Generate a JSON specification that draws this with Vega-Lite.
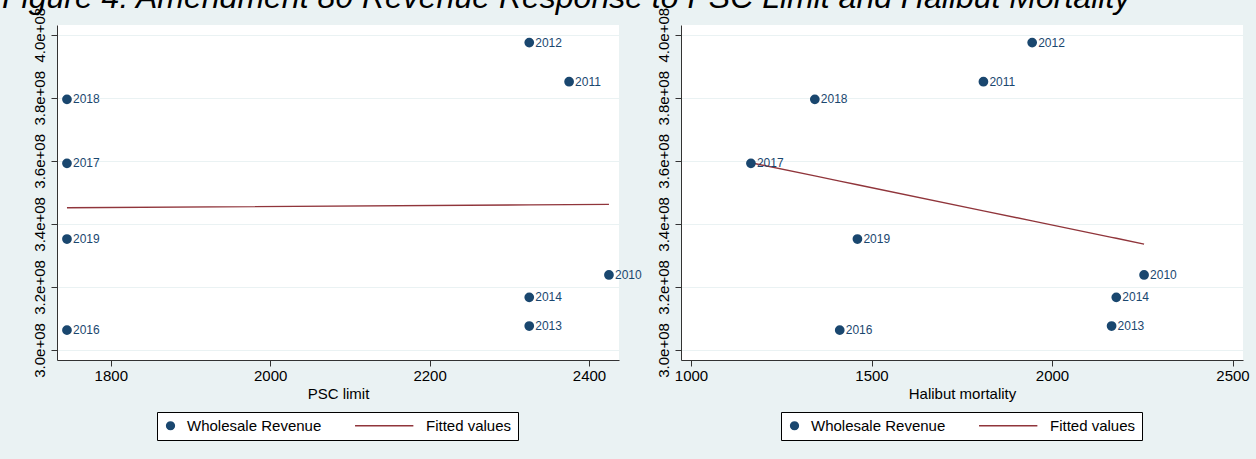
{
  "$schema": "https://vega.github.io/schema/vega-lite/v6.json",
  "autosize": {"type": "none"},
  "padding": {"left": 57, "top": 25, "right": 1199, "bottom": 434},
  "background": "#EAF2F3",
  "title": {
    "text": "Figure 4: Amendment 80 Revenue Response to PSC Limit and Halibut Mortality",
    "anchor": "start",
    "frame": "group",
    "dx": -55,
    "offset": -33,
    "baseline": "alphabetic",
    "font": "Liberation Sans",
    "fontSize": 32,
    "fontStyle": "italic",
    "fontWeight": "normal",
    "color": "#000000"
  },
  "datasets": {
    "main": [
      {"year": "2010", "psc": 2425, "hal": 2255, "rev": 323800000, "fit_psc": 346200000, "fit_hal": 333600000, "series": "Wholesale Revenue"},
      {"year": "2011", "psc": 2375, "hal": 1810, "rev": 385100000, "fit_psc": 346120000, "fit_hal": 344140000, "series": "Wholesale Revenue"},
      {"year": "2012", "psc": 2325, "hal": 1945, "rev": 397500000, "fit_psc": 346040000, "fit_hal": 340950000, "series": "Wholesale Revenue"},
      {"year": "2013", "psc": 2325, "hal": 2165, "rev": 307600000, "fit_psc": 346040000, "fit_hal": 335730000, "series": "Wholesale Revenue"},
      {"year": "2014", "psc": 2325, "hal": 2178, "rev": 316700000, "fit_psc": 346040000, "fit_hal": 335430000, "series": "Wholesale Revenue"},
      {"year": "2016", "psc": 1745, "hal": 1412, "rev": 306300000, "fit_psc": 345100000, "fit_hal": 353570000, "series": "Wholesale Revenue"},
      {"year": "2017", "psc": 1745, "hal": 1166, "rev": 359200000, "fit_psc": 345100000, "fit_hal": 359400000, "series": "Wholesale Revenue"},
      {"year": "2018", "psc": 1745, "hal": 1343, "rev": 379500000, "fit_psc": 345100000, "fit_hal": 355210000, "series": "Wholesale Revenue"},
      {"year": "2019", "psc": 1745, "hal": 1461, "rev": 335200000, "fit_psc": 345100000, "fit_hal": 352410000, "series": "Wholesale Revenue"}
    ]
  },
  "data": {"name": "main"},
  "spacing": 62,
  "bounds": "flush",
  "hconcat": [
    {
      "width": 562,
      "height": 335,
      "layer": [
        {
          "mark": {"type": "line", "color": "#90353B", "strokeWidth": 1.4},
          "encoding": {
            "x": {"field": "psc", "type": "quantitative", "title": "PSC limit", "scale": {"domain": [1732.5, 2437.6], "nice": false, "zero": false}, "axis": {"values": [1800, 2000, 2200, 2400], "format": "d"}},
            "y": {"field": "fit_psc", "type": "quantitative", "title": null, "scale": {"domain": [296830000, 403080000], "nice": false, "zero": false}, "axis": {"values": [300000000, 320000000, 340000000, 360000000, 380000000, 400000000], "labelExpr": "replace(format(datum.value, '.1e'), 'e+', 'e+0')"}}
          }
        },
        {
          "mark": {"type": "point", "filled": true, "opacity": 1, "size": 60},
          "encoding": {
            "x": {"field": "psc", "type": "quantitative", "title": "PSC limit"},
            "y": {"field": "rev", "type": "quantitative", "title": null},
            "fill": {"field": "series", "type": "nominal", "scale": {"domain": ["Wholesale Revenue", "Fitted values"], "range": ["#1A476F", "#90353B"]}, "legend": {"orient": "none", "legendX": 100, "legendY": 387, "direction": "horizontal", "title": null}},
            "stroke": {"field": "series", "type": "nominal", "scale": {"domain": ["Wholesale Revenue", "Fitted values"], "range": ["#1A476F", "#90353B"]}, "legend": {"orient": "none", "legendX": 100, "legendY": 387, "direction": "horizontal", "title": null}},
            "shape": {"field": "series", "type": "nominal", "scale": {"domain": ["Wholesale Revenue", "Fitted values"], "range": ["circle", "M -14.06 0 L 1 0"]}, "legend": {"orient": "none", "legendX": 100, "legendY": 387, "direction": "horizontal", "title": null}}
          }
        },
        {
          "mark": {"type": "text", "align": "left", "baseline": "middle", "dx": 6, "fontSize": 12, "color": "#1A476F", "font": "Liberation Sans"},
          "encoding": {
            "x": {"field": "psc", "type": "quantitative", "title": "PSC limit"},
            "y": {"field": "rev", "type": "quantitative", "title": null},
            "text": {"field": "year", "type": "nominal"}
          }
        }
      ]
    },
    {
      "width": 562,
      "height": 335,
      "layer": [
        {
          "mark": {"type": "line", "color": "#90353B", "strokeWidth": 1.4},
          "encoding": {
            "x": {"field": "hal", "type": "quantitative", "title": "Halibut mortality", "scale": {"domain": [972.3, 2529], "nice": false, "zero": false}, "axis": {"values": [1000, 1500, 2000, 2500], "format": "d"}},
            "y": {"field": "fit_hal", "type": "quantitative", "title": null, "scale": {"domain": [296830000, 403080000], "nice": false, "zero": false}, "axis": {"values": [300000000, 320000000, 340000000, 360000000, 380000000, 400000000], "labelExpr": "replace(format(datum.value, '.1e'), 'e+', 'e+0')"}}
          }
        },
        {
          "mark": {"type": "point", "filled": true, "opacity": 1, "size": 60},
          "encoding": {
            "x": {"field": "hal", "type": "quantitative", "title": "Halibut mortality"},
            "y": {"field": "rev", "type": "quantitative", "title": null},
            "fill": {"field": "series", "type": "nominal", "scale": {"domain": ["Wholesale Revenue", "Fitted values"], "range": ["#1A476F", "#90353B"]}, "legend": {"orient": "none", "legendX": 100, "legendY": 387, "direction": "horizontal", "title": null}},
            "stroke": {"field": "series", "type": "nominal", "scale": {"domain": ["Wholesale Revenue", "Fitted values"], "range": ["#1A476F", "#90353B"]}, "legend": {"orient": "none", "legendX": 100, "legendY": 387, "direction": "horizontal", "title": null}},
            "shape": {"field": "series", "type": "nominal", "scale": {"domain": ["Wholesale Revenue", "Fitted values"], "range": ["circle", "M -14.06 0 L 1 0"]}, "legend": {"orient": "none", "legendX": 100, "legendY": 387, "direction": "horizontal", "title": null}}
          }
        },
        {
          "mark": {"type": "text", "align": "left", "baseline": "middle", "dx": 6, "fontSize": 12, "color": "#1A476F", "font": "Liberation Sans"},
          "encoding": {
            "x": {"field": "hal", "type": "quantitative", "title": "Halibut mortality"},
            "y": {"field": "rev", "type": "quantitative", "title": null},
            "text": {"field": "year", "type": "nominal"}
          }
        }
      ]
    }
  ],
  "resolve": {
    "scale": {"x": "independent", "y": "independent", "fill": "independent", "stroke": "independent", "shape": "independent"},
    "legend": {"fill": "independent", "stroke": "independent", "shape": "independent"}
  },
  "config": {
    "view": {"fill": "white", "stroke": null},
    "axis": {
      "labelFont": "Liberation Sans", "titleFont": "Liberation Sans",
      "labelFontSize": 15, "titleFontSize": 15,
      "labelColor": "#000000", "titleColor": "#000000", "titleFontWeight": "normal",
      "domainColor": "#333333", "tickColor": "#333333", "tickSize": 6,
      "gridColor": "#EAF2F3", "gridWidth": 1.2,
      "labelOverlap": false, "labelFlush": false
    },
    "axisX": {"grid": false, "labelPadding": 2, "titlePadding": 3},
    "axisY": {"grid": true, "labelAngle": 270, "labelAlign": "center", "labelBaseline": "bottom", "labelPadding": 4},
    "legend": {
      "labelFont": "Liberation Sans", "labelFontSize": 15, "labelColor": "#000000",
      "fillColor": "white", "strokeColor": "#000000", "padding": 6,
      "columnPadding": 30, "labelOffset": 9, "symbolStrokeWidth": 1.5, "symbolSize": 60, "labelLimit": 0
    }
  }
}
